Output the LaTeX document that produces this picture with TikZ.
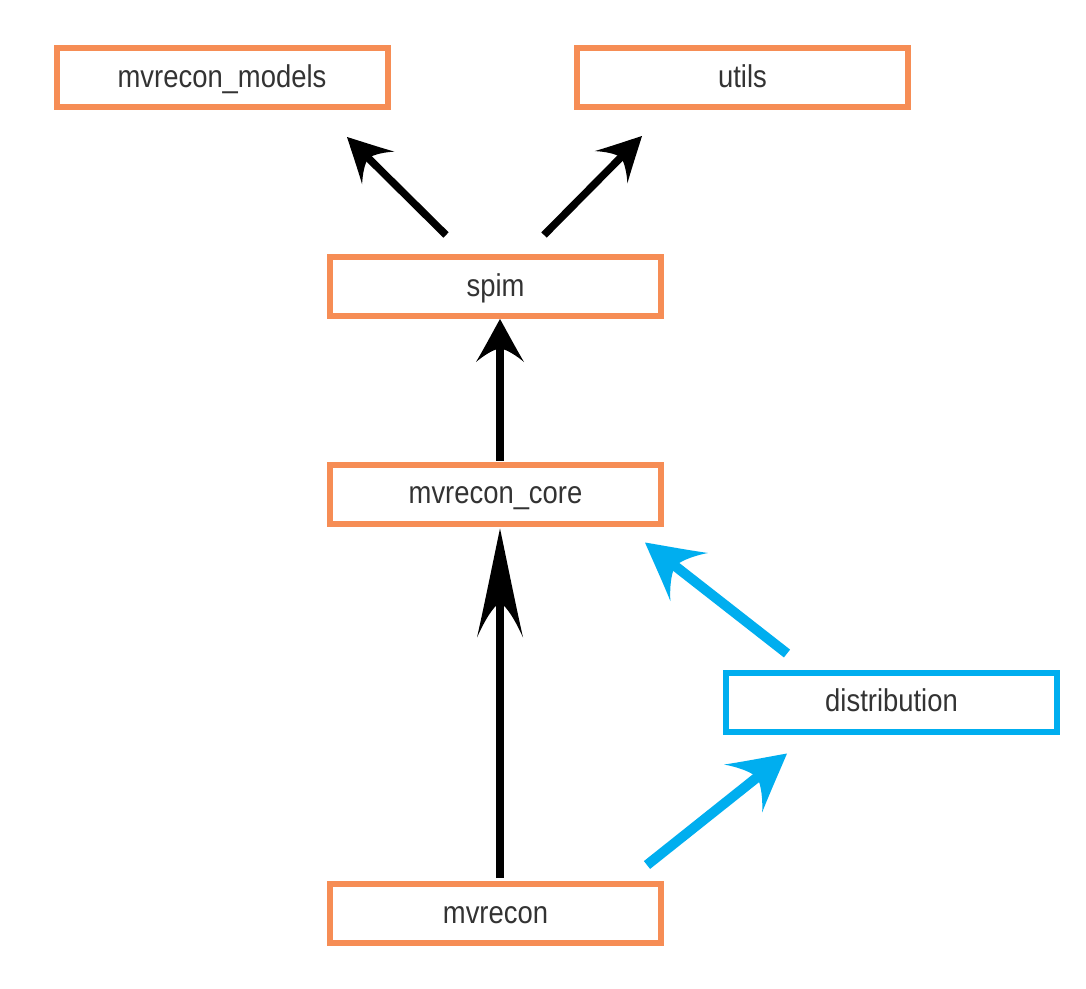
\documentclass[tikz,border=0pt]{standalone}
\usepackage{fontspec}
\setmainfont{Liberation Sans}
\newfontfamily\narrowfont[FakeStretch=0.87]{Liberation Sans}
\usetikzlibrary{arrows.meta,calc}
\definecolor{ora}{HTML}{F68D55}
\definecolor{blu}{HTML}{00AEEF}
\definecolor{txt}{HTML}{333333}
\pgfdeclarearrow{
  name = Curvy,
  parameters = {\the\pgfarrowlength,\the\pgfarrowwidth},
  setup code = {
    \pgfarrowssettipend{0pt}
    \pgfarrowssetlineend{-.55\pgfarrowlength}
    \pgfarrowsupperhullpoint{0pt}{0pt}
    \pgfarrowsupperhullpoint{-\pgfarrowlength}{.5\pgfarrowwidth}
    \pgfarrowssavethe\pgfarrowlength
    \pgfarrowssavethe\pgfarrowwidth
  },
  drawing code = {
    \pgfpathmoveto{\pgfqpoint{0pt}{0pt}}
    \pgfpathcurveto{\pgfpoint{-.28\pgfarrowlength}{.14\pgfarrowwidth}}{\pgfpoint{-.68\pgfarrowlength}{.33\pgfarrowwidth}}{\pgfpoint{-\pgfarrowlength}{.5\pgfarrowwidth}}
    \pgfpathcurveto{\pgfpoint{-.85\pgfarrowlength}{.34\pgfarrowwidth}}{\pgfpoint{-.72\pgfarrowlength}{.16\pgfarrowwidth}}{\pgfpoint{-.68\pgfarrowlength}{0pt}}
    \pgfpathcurveto{\pgfpoint{-.72\pgfarrowlength}{-.16\pgfarrowwidth}}{\pgfpoint{-.85\pgfarrowlength}{-.34\pgfarrowwidth}}{\pgfpoint{-\pgfarrowlength}{-.5\pgfarrowwidth}}
    \pgfpathcurveto{\pgfpoint{-.68\pgfarrowlength}{-.33\pgfarrowwidth}}{\pgfpoint{-.28\pgfarrowlength}{-.14\pgfarrowwidth}}{\pgfqpoint{0pt}{0pt}}
    \pgfpathclose
    \pgfusepathqfill
  },
  defaults = {length = 44pt, width = 46pt}
}
\tikzset{
  obox/.style={draw=ora, line width=6pt, fill=white, minimum width=331pt, minimum height=59pt, inner sep=0pt, text=txt, text height=25pt, text depth=6pt, font=\narrowfont\fontsize{31.5}{36}\selectfont},
  bbox/.style={obox, draw=blu},
  karrow/.style={line width=7.5pt, -{Curvy[length=44pt,width=46pt]}},
  bigarrow/.style={line width=7.5pt, -{Curvy[length=109pt,width=46pt]}},
  barrow/.style={draw=blu, line width=10pt, -{Curvy[length=56pt,width=61pt]}},
}
\begin{document}
\begin{tikzpicture}[x=1pt,y=-1pt]
\useasboundingbox[fill=white] (0,0) rectangle (1086,988);
\node[obox] (models) at (222,77.5) {mvrecon\_models};
\node[obox] (utils) at (742.5,77.5) {utils};
\node[obox] (spim) at (495.5,286.5) {spim};
\node[obox] (core) at (495.5,494) {mvrecon\_core};
\node[bbox] (dist) at (891.5,702) {distribution};
\node[obox] (mvrecon) at (495.5,913.5) {mvrecon};

\draw[karrow] ($(spim.north)+(-49.5,-19)$) -- ($(models.south)+(125,27)$);
\draw[karrow] ($(spim.north)+(48.5,-19)$) -- ($(utils.south)+(-100.5,26)$);
\draw[karrow,-{Curvy[length=43pt,width=48pt]}] ($(core.north)+(4.5,-1)$) -- ($(spim.south)+(4.5,0)$);
\draw[bigarrow] ($(mvrecon.north)+(4.5,-3)$) -- ($(core.south)+(4.5,2)$);
\draw[barrow] ($(dist.north)+(-104.5,-16)$) -- ($(core.south east)+(-19,16)$);
\draw[barrow] ($(mvrecon.north east)+(-17,-16)$) -- ($(dist.south west)+(64,19)$);
\end{tikzpicture}
\end{document}
